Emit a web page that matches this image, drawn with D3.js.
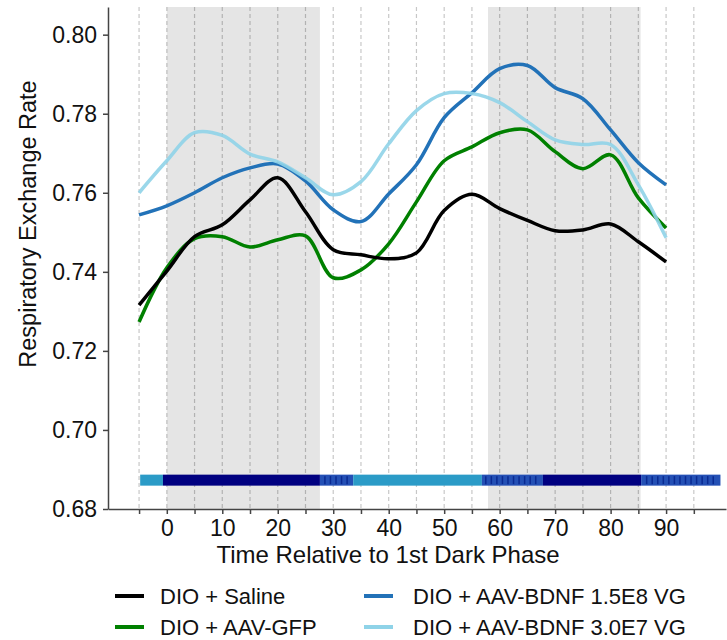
<!DOCTYPE html>
<html>
<head>
<meta charset="utf-8">
<script src="https://cdn.jsdelivr.net/npm/d3@7"></script>
<style>
  body { margin: 0; background: #fff; }
  svg { font-family: "Liberation Sans", Arial, sans-serif; }
</style>
</head>
<body>
<div id="chart"></div>
<script>
// time points (x) shared by every series
var timePoints = [-5, 0, 5, 10, 15, 20, 25, 30, 35, 40, 45, 50, 55, 60, 65, 70, 75, 80, 85, 90];

// series values
var saline = [0.7316, 0.7402, 0.7489, 0.7519, 0.7582, 0.7638, 0.7552, 0.7456, 0.7443, 0.7433,
              0.7448, 0.7555, 0.7596, 0.7560, 0.7530, 0.7504, 0.7506, 0.7521, 0.7476, 0.7425];
var gfp = [0.7273, 0.7410, 0.7484, 0.7489, 0.7463, 0.7481, 0.7491, 0.7385, 0.7405, 0.7471,
           0.7577, 0.7681, 0.7716, 0.7752, 0.7759, 0.7704, 0.7661, 0.7696, 0.7587, 0.7511];
var bdnfHigh = [0.7544, 0.7567, 0.7600, 0.7638, 0.7663, 0.7673, 0.7630, 0.7557, 0.7527, 0.7597,
                0.7671, 0.7790, 0.7853, 0.7914, 0.7922, 0.7866, 0.7838, 0.7759, 0.7676, 0.7620];
var bdnfLow = [0.7600, 0.7681, 0.7752, 0.7745, 0.7698, 0.7678, 0.7638, 0.7595, 0.7628, 0.7724,
               0.7808, 0.7851, 0.7851, 0.7828, 0.7780, 0.7734, 0.7722, 0.7722, 0.7620, 0.7486];

var seriesNames = ["DIO + Saline", "DIO + AAV-GFP", "DIO + AAV-BDNF 1.5E8 VG", "DIO + AAV-BDNF 3.0E7 VG"];
var seriesColors = ["#000000", "#008000", "#2272b8", "#8fd3e8"];

// dark phases (shaded)
var darkStart = [0, 57.9];
var darkEnd = [27.6, 85.4];

// phase bar along the bottom
var barStart = [-4.8, -0.7, 27.6, 33.6, 56.8, 67.8, 85.5];
var barEnd   = [-0.7, 27.6, 33.6, 56.8, 67.8, 85.5, 99.8];
var barType  = ["light", "dark", "mixed", "light", "mixed", "dark", "mixed"];
var barLevel = 0.6873;

var xTicks = d3.range(-5, 100, 5);
var xLabels = [0, 10, 20, 30, 40, 50, 60, 70, 80, 90];
var yTicks = [0.68, 0.70, 0.72, 0.74, 0.76, 0.78, 0.80];

var svgWidth = 727;
var svgHeight = 640;

var svg = d3.select("#chart")
    .append("svg")
    .attr("width", svgWidth)
    .attr("height", svgHeight);

var x = d3.scaleLinear().domain([-10.6, 100.8]).range([108, 726]);
var y = d3.scaleLinear().domain([0.68, 0.807]).range([509, 7]);

// shaded dark phases
svg.selectAll(".dark")
    .data(darkStart)
    .enter()
    .append("rect")
    .attr("x", (d, i) => x(d))
    .attr("width", (d, i) => x(darkEnd[i]) - x(d))
    .attr("y", y(0.807))
    .attr("height", y(0.68) - y(0.807))
    .attr("fill", "#e5e5e5");

// dashed vertical grid
svg.selectAll(".grid")
    .data(xTicks)
    .enter()
    .append("line")
    .attr("x1", d => x(d))
    .attr("x2", d => x(d))
    .attr("y1", y(0.807))
    .attr("y2", y(0.68))
    .attr("stroke", "rgba(0,0,0,0.22)")
    .attr("stroke-width", 1.2)
    .attr("stroke-dasharray", "4,3");

// phase bar
var barH = 11;
var barColors = { light: "#2b9bc7", dark: "#000080", mixed: "#2450b5" };
svg.selectAll(".bar")
    .data(barStart)
    .enter()
    .append("rect")
    .attr("x", d => x(d))
    .attr("width", (d, i) => x(barEnd[i]) - x(d))
    .attr("y", y(barLevel) - barH / 2)
    .attr("height", barH)
    .attr("fill", (d, i) => barColors[barType[i]]);

// stripes inside the mixed parts
barStart.forEach(function(s, i) {
    if (barType[i] !== "mixed") return;
    var pos = d3.range(Math.ceil(s) + 0.5, barEnd[i] - 0.3, 1);
    svg.selectAll(null)
        .data(pos)
        .enter()
        .append("line")
        .attr("x1", d => x(d))
        .attr("x2", d => x(d))
        .attr("y1", y(barLevel) - barH / 2 + 1.5)
        .attr("y2", y(barLevel) + barH / 2 - 1.5)
        .attr("stroke", "#0a2a92")
        .attr("stroke-width", 1.5);
});

// lines
var allSeries = [gfp, saline, bdnfHigh, bdnfLow];
var drawColors = [seriesColors[1], seriesColors[0], seriesColors[2], seriesColors[3]];
var line = d3.line()
    .x((d, i) => x(timePoints[i]))
    .y(d => y(d))
    .curve(d3.curveCatmullRom.alpha(0.5));

svg.selectAll(".series")
    .data(allSeries)
    .enter()
    .append("path")
    .attr("d", d => line(d))
    .attr("fill", "none")
    .attr("stroke", (d, i) => drawColors[i])
    .attr("stroke-opacity", (d, i) => i === 3 ? 0.9 : 1)
    .attr("stroke-width", 3.5)
    .attr("stroke-linejoin", "round");

// axes
var xAxis = svg.append("g")
    .attr("transform", `translate(0, ${y(0.68)})`)
    .call(d3.axisBottom(x).tickValues(xTicks).tickSize(5).tickSizeOuter(0)
        .tickFormat(d => xLabels.indexOf(d) >= 0 ? d : ""));
xAxis.selectAll("text")
    .attr("font-size", "23px")
    .attr("fill", "#111")
    .attr("y", 11)
    .attr("dy", "0.71em");

var yAxis = svg.append("g")
    .attr("transform", `translate(${x(-10.6)}, 0)`)
    .call(d3.axisLeft(y).tickValues(yTicks).tickSize(5).tickSizeOuter(0)
        .tickFormat(d3.format(".2f")));
yAxis.selectAll("text")
    .attr("font-size", "23px")
    .attr("fill", "#111")
    .attr("x", -11);

svg.selectAll(".domain, .tick line")
    .attr("stroke", "#444")
    .attr("stroke-width", 1.5);

// axis titles
svg.append("text")
    .attr("x", 388)
    .attr("y", 563)
    .attr("text-anchor", "middle")
    .attr("font-size", "24px")
    .attr("fill", "#111")
    .text("Time Relative to 1st Dark Phase");

svg.append("text")
    .attr("transform", "translate(36, 224) rotate(-90)")
    .attr("text-anchor", "middle")
    .attr("font-size", "23.5px")
    .attr("fill", "#111")
    .text("Respiratory Exchange Rate");

// legend
var legendX = [115, 115, 364, 364];
var legendY = [596, 627, 596, 627];
var legendGap = [45, 45, 49, 49];
var legend = svg.selectAll(".legend")
    .data(seriesNames)
    .enter()
    .append("g")
    .attr("transform", (d, i) => `translate(${legendX[i]}, ${legendY[i]})`);

legend.append("line")
    .attr("x1", 0)
    .attr("x2", 29)
    .attr("stroke", (d, i) => seriesColors[i])
    .attr("stroke-width", 4);

legend.append("text")
    .attr("x", (d, i) => legendGap[i])
    .attr("dy", "0.35em")
    .attr("font-size", "22px")
    .attr("fill", "#111")
    .text(d => d);
</script>
</body>
</html>
